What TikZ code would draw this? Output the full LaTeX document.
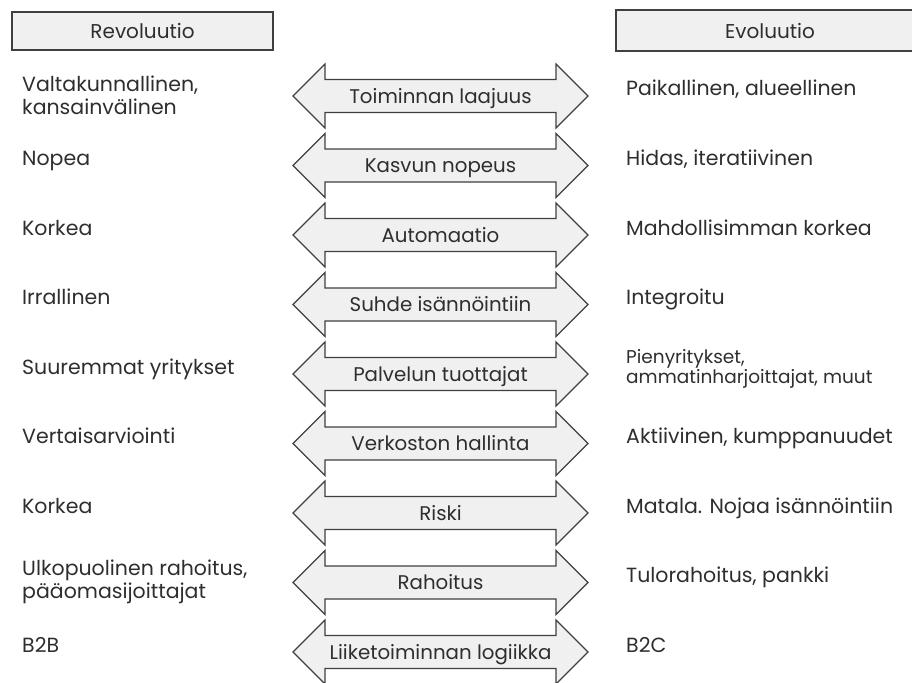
\documentclass[tikz,border=0pt]{standalone}
\usepackage{fontspec}
\setmainfont{Poppins}
\definecolor{ink}{HTML}{2E2E2E}
\definecolor{panel}{HTML}{F0F0F0}
\definecolor{rim}{HTML}{404040}
\begin{document}
\begin{tikzpicture}[x=1pt,y=-1pt,
  headbox/.style={draw=rim, line width=1.4pt, fill=panel},
  headtext/.style={text=ink, font=\fontsize{20}{24}\selectfont, inner sep=0pt},
  sidetext/.style={anchor=base west, text=ink, inner sep=0pt, align=left,
                   font=\fontsize{20.5}{23}\selectfont},
  smalltext/.style={sidetext, font=\fontsize{18.5}{15.5}\selectfont},
  arrowshape/.style={draw=rim, line width=1.1pt, fill=panel, line join=miter},
  arrowtext/.style={anchor=base, text=ink, inner sep=0pt,
                    font=\fontsize{19.8}{22}\selectfont}]
\useasboundingbox (0,0) rectangle (912,682);

% column headers
\draw[headbox] (12,12) rectangle (273,50);
\node[headtext] (hrev) at (142.5,31) {Revoluutio};
\draw[headbox] (616,10) rectangle (930,51);
\node[headtext] (hevo) at (770,31) {Evoluutio};

% double arrows with their labels
\foreach \i/\lab in {0/Toiminnan laajuus, 1/Kasvun nopeus, 2/Automaatio,
    3/Suhde isännöintiin, 4/Palvelun tuottajat, 5/Verkoston hallinta,
    6/Riski, 7/Rahoitus, 8/Liiketoiminnan logiikka}{
  \pgfmathsetmacro{\cy}{96+69.5*\i}
  \coordinate (c\i) at (440.5,\cy);
  \draw[arrowshape] (c\i) ++(-147.5,0) -- ++(32,-32) -- ++(0,15.5)
     -- ++(231,0) -- ++(0,-15.5) -- ++(32,32) -- ++(-32,32) -- ++(0,-15.5)
     -- ++(-231,0) -- ++(0,15.5) -- cycle;
  \node[arrowtext] (a\i) at ([yshift=-7pt]c\i) {\lab};
}

% left column (multi-line nodes sit on the baseline of their last line)
\node[sidetext] (l0) at (22,115) {Valtakunnallinen,\\kansainvälinen};
\node[sidetext] (l1) at (22,165.5) {Nopea};
\node[sidetext] (l2) at (22,235) {Korkea};
\node[sidetext] (l3) at (22,304.5) {Irrallinen};
\node[sidetext] (l4) at (22,374) {Suuremmat yritykset};
\node[sidetext] (l5) at (22,443.5) {Vertaisarviointi};
\node[sidetext] (l6) at (22,513) {Korkea};
\node[sidetext] (l7) at (22,598) {Ulkopuolinen rahoitus,\\pääomasijoittajat};
\node[sidetext] (l8) at (22,652) {B2B};

% right column
\node[sidetext] (r0) at (626,96) {Paikallinen, alueellinen};
\node[sidetext] (r1) at (626,165.5) {Hidas, iteratiivinen};
\node[sidetext] (r2) at (626,235) {Mahdollisimman korkea};
\node[sidetext] (r3) at (626,304.5) {Integroitu};
\node[smalltext] (r4) at (626,383) {Pienyritykset,\\ammatinharjoittajat, muut};
\node[sidetext] (r5) at (626,443.5) {Aktiivinen, kumppanuudet};
\node[sidetext] (r6) at (626,513) {Matala. Nojaa isännöintiin};
\node[sidetext] (r7) at (626,582.5) {Tulorahoitus, pankki};
\node[sidetext] (r8) at (626,652) {B2C};
\end{tikzpicture}
\end{document}
